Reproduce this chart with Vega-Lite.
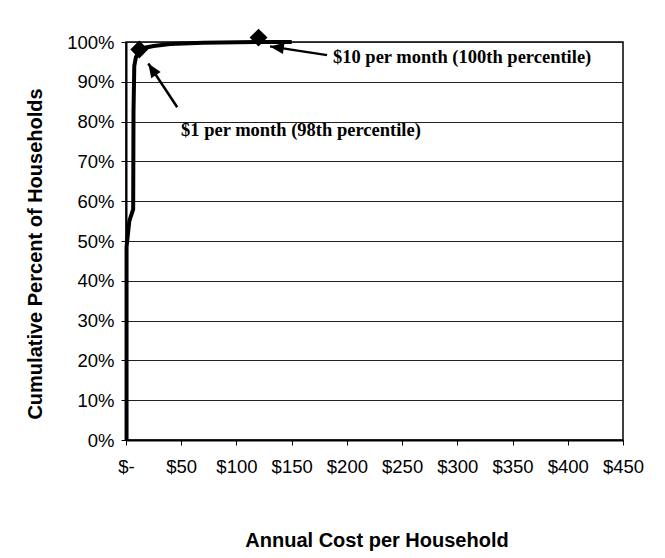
{
  "$schema": "https://vega.github.io/schema/vega-lite/v6.json",
  "autosize": "none",
  "width": 497,
  "height": 398,
  "padding": {"left": 126, "top": 42, "right": 42, "bottom": 118},
  "background": "white",
  "config": {
    "view": {"stroke": "black", "strokeWidth": 1.5},
    "font": "Liberation Sans"
  },
  "datasets": {
    "curve": [
      {"cost": 0.5, "pct": 0},
      {"cost": 0.5, "pct": 0.485},
      {"cost": 3, "pct": 0.55},
      {"cost": 6.5, "pct": 0.58},
      {"cost": 6.8, "pct": 0.825},
      {"cost": 7.5, "pct": 0.94},
      {"cost": 9, "pct": 0.962},
      {"cost": 12, "pct": 0.975},
      {"cost": 16, "pct": 0.985},
      {"cost": 25, "pct": 0.99},
      {"cost": 40, "pct": 0.995},
      {"cost": 70, "pct": 0.998},
      {"cost": 120, "pct": 1.0},
      {"cost": 150, "pct": 1.0}
    ],
    "markers": [
      {"cost": 12, "pct": 0.981},
      {"cost": 120, "pct": 1.011}
    ],
    "arrows": [
      {"cost": 46.4, "pct": 0.836, "cost2": 20.2, "pct2": 0.946, "angle": 326.6},
      {"cost": 182, "pct": 0.967, "cost2": 130.4, "pct2": 0.989, "angle": 278.5}
    ],
    "labels": [
      {"cost": 49.8, "pct": 0.779, "text": "$1 per month (98th percentile)"},
      {"cost": 187.4, "pct": 0.962, "text": "$10 per month (100th percentile)"}
    ]
  },
  "encoding": {
    "x": {
      "field": "cost", "type": "quantitative",
      "scale": {"domain": [0, 450], "nice": false},
      "axis": {
        "values": [0, 50, 100, 150, 200, 250, 300, 350, 400, 450],
        "labelExpr": "datum.value == 0 ? '$-' : '$' + datum.value",
        "grid": false,
        "domainColor": "black", "domainWidth": 2,
        "tickColor": "black", "tickSize": 5, "tickWidth": 1,
        "labelFont": "Liberation Sans", "labelFontSize": 18.5, "labelColor": "black",
        "labelPadding": 12, "labelFlush": false, "labelOverlap": false,
        "title": "Annual Cost per Household",
        "titleFont": "Liberation Sans", "titleFontSize": 20, "titleFontWeight": "bold", "titleColor": "black",
        "titleX": 250.5, "titleY": 100, "titleBaseline": "middle", "titleAlign": "center"
      }
    },
    "y": {
      "field": "pct", "type": "quantitative",
      "scale": {"domain": [0, 1], "nice": false},
      "axis": {
        "values": [0, 0.1, 0.2, 0.3, 0.4, 0.5, 0.6, 0.7, 0.8, 0.9, 1.0],
        "format": ".0%",
        "grid": true, "gridColor": "#222", "gridWidth": 1,
        "domainColor": "black", "domainWidth": 2,
        "tickColor": "black", "tickSize": 5, "tickWidth": 1,
        "labelFont": "Liberation Sans", "labelFontSize": 18.5, "labelColor": "black",
        "labelPadding": 7, "labelFlush": false, "labelOverlap": false,
        "title": "Cumulative Percent of Households",
        "titleFont": "Liberation Sans", "titleFontSize": 20, "titleFontWeight": "bold", "titleColor": "black",
        "titleAngle": -90, "titleX": -91, "titleY": 211.5, "titleBaseline": "middle", "titleAlign": "center"
      }
    }
  },
  "layer": [
    {
      "data": {"name": "curve"},
      "mark": {"type": "line", "color": "black", "strokeWidth": 4, "interpolate": "linear", "clip": false}
    },
    {
      "data": {"name": "markers"},
      "mark": {"type": "point", "shape": "diamond", "filled": true, "color": "black", "size": 320, "opacity": 1, "clip": false}
    },
    {
      "data": {"name": "arrows"},
      "mark": {"type": "rule", "color": "black", "strokeWidth": 2.5},
      "encoding": {
        "x2": {"field": "cost2"},
        "y2": {"field": "pct2"}
      }
    },
    {
      "data": {"name": "arrows"},
      "mark": {"type": "point", "shape": "M0,0 L-0.65,1.6 L0.65,1.6 Z", "filled": true, "color": "black", "size": 300, "opacity": 1},
      "encoding": {
        "x": {"field": "cost2", "type": "quantitative"},
        "y": {"field": "pct2", "type": "quantitative"},
        "angle": {"field": "angle", "type": "quantitative", "scale": null}
      }
    },
    {
      "data": {"name": "labels"},
      "mark": {"type": "text", "align": "left", "baseline": "middle", "font": "Liberation Serif", "fontWeight": "bold", "fontSize": 18.5, "color": "black"},
      "encoding": {
        "text": {"field": "text"}
      }
    }
  ]
}
